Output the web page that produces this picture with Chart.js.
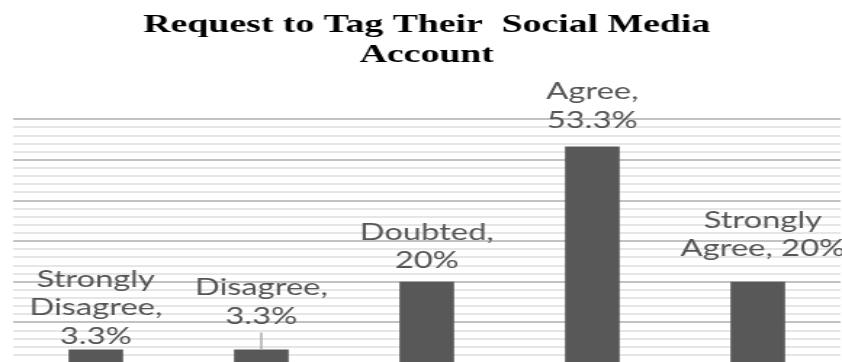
<!DOCTYPE html>
<html>
<head>
<meta charset="utf-8">
<script src="https://cdn.jsdelivr.net/npm/chart.js@4.4.1/dist/chart.umd.min.js"></script>
<style>
  html, body { margin: 0; padding: 0; width: 842px; height: 362px; overflow: hidden; background: #fff; }
  #chart { position: absolute; left: 0; top: 0; transform: scaleX(1.4517); transform-origin: 0 0; }
</style>
</head>
<body>
<canvas id="chart" width="580" height="372"></canvas>
<script>
const categories = ["Strongly Disagree", "Disagree", "Doubted", "Agree", "Strongly Agree"];
const values = [3.3, 3.3, 20, 53.3, 20];
const yTicks = { min: 0, max: 60, minorStep: 2, majorStep: 10 };

// labels that were dragged up off their bars (px), and which of them keep a leader line
const labelLift = [0, 20, 8, 13, 20];
const labelShift = [0, 0, 0, 0, 3.5];
const leaderLine = [false, true, false, false, false];

const labelFont = "22.5px Lato";
const labelColor = "#555555";
const labelLineHeight = 28.5;
const labelMaxWidth = 118;

function wrapLabel (ctx, text) {
  const words = text.split(" ");
  const lines = [];
  let line = "";
  words.forEach(w => {
    const test = line ? line + " " + w : w;
    if (line && ctx.measureText(test).width > labelMaxWidth) {
      lines.push(line);
      line = w;
    } else {
      line = test;
    }
  });
  if (line) lines.push(line);
  return lines;
}

// "Category, value%" drawn above each bar
const barLabels = {
  id: "barLabels",
  afterDatasetsDraw (chart) {
    const ctx = chart.ctx;
    const meta = chart.getDatasetMeta(0);
    ctx.save();
    ctx.font = labelFont;
    ctx.fillStyle = labelColor;
    ctx.textAlign = "center";
    ctx.textBaseline = "middle";
    meta.data.forEach((bar, i) => {
      const text = categories[i] + ", " + values[i] + "%";
      const lines = wrapLabel(ctx, text);
      const lastY = bar.y - 13 - labelLift[i];
      const x = bar.x + labelShift[i];
      lines.forEach((ln, k) => {
        ctx.fillText(ln, x, lastY - (lines.length - 1 - k) * labelLineHeight);
      });
      if (leaderLine[i]) {
        ctx.strokeStyle = "#a6a6a6";
        ctx.lineWidth = 1.4;
        ctx.beginPath();
        ctx.moveTo(bar.x, lastY + 16);
        ctx.lineTo(bar.x, bar.y);
        ctx.stroke();
      }
    });
    ctx.restore();
  }
};

new Chart(document.getElementById("chart").getContext("2d"), {
  type: "bar",
  data: {
    labels: categories,
    datasets: [{
      data: values,
      backgroundColor: "#585858",
      barPercentage: 0.33,
      categoryPercentage: 1
    }]
  },
  options: {
    responsive: false,
    animation: false,
    layout: { padding: { left: 9, right: 1, top: 0, bottom: 9 } },
    plugins: {
      legend: { display: false },
      tooltip: { enabled: false },
      title: {
        display: true,
        text: ["Request to Tag Their  Social Media", "Account"],
        color: "#000",
        font: { family: "'Liberation Serif', 'Times New Roman', serif", weight: "bold", size: 26, lineHeight: 1.16 },
        padding: { top: 10, bottom: 49 }
      }
    },
    scales: {
      x: { display: false },
      y: {
        min: yTicks.min,
        max: yTicks.max,
        ticks: { display: false, stepSize: yTicks.minorStep },
        border: { display: false },
        grid: {
          drawTicks: false,
          lineWidth: 2,
          color: c => (c.tick && c.tick.value % yTicks.majorStep === 0) ? "#c2c2c2" : "#e6e6e6"
        }
      }
    }
  },
  plugins: [barLabels]
});
</script>
</body>
</html>
